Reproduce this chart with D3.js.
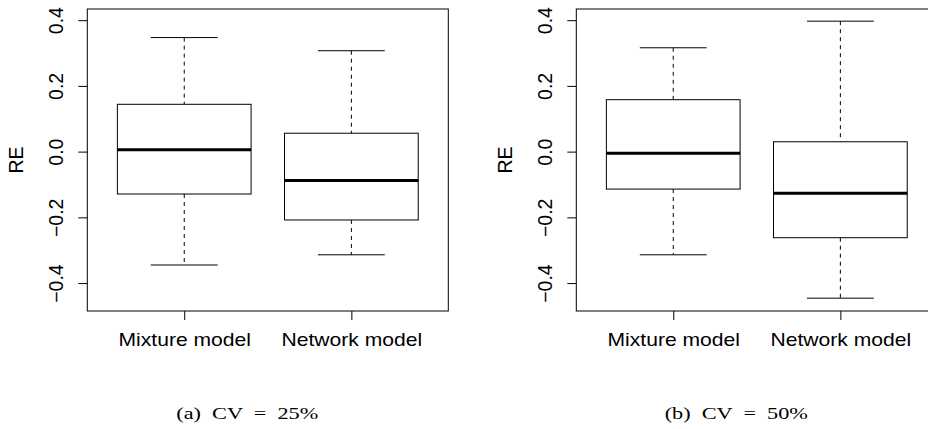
<!DOCTYPE html>
<html>
<head>
<meta charset="utf-8">
<script src="https://cdn.jsdelivr.net/npm/d3@7"></script>
<style>
  html, body { margin: 0; padding: 0; background: #fff; }
  #chart { width: 928px; height: 429px; overflow: hidden; }
</style>
</head>
<body>
<div id="chart"></div>
<script>
// --- data ---
const categories = ["Mixture model", "Network model"];
const captions = ["(a)  CV  =  25%", "(b)  CV  =  50%"];
// [lower whisker, Q1, median, Q3, upper whisker]
const cv25Mixture = [-0.345, -0.129, 0.006, 0.144, 0.347];
const cv25Network = [-0.314, -0.208, -0.088, 0.056, 0.307];
const cv50Mixture = [-0.314, -0.114, -0.005, 0.158, 0.316];
const cv50Network = [-0.446, -0.262, -0.127, 0.030, 0.397];
const yTicks = [-0.4, -0.2, 0.0, 0.2, 0.4];
const yTickLabels = ["\u22120.4", "\u22120.2", "0.0", "0.2", "0.4"];
const yLabel = "RE";

// --- layout ---
const width = 928, height = 429;
const plotTop = 9, plotBottom = 311, plotWidth = 361;
const hStretch = 1.14; // the source picture is a bit wider than tall
const panels = [
  { left: 87.3, caption: captions[0], stats: [cv25Mixture, cv25Network] },
  { left: 576.3, caption: captions[1], stats: [cv50Mixture, cv50Network] }
];

const svg = d3.select("#chart").append("svg")
  .attr("width", width)
  .attr("height", height)
  .style("font-family", "'Liberation Sans', Arial, Helvetica, sans-serif");

// shared y range (R extends the data range by 4%)
const y = d3.scaleLinear().domain([-0.485, 0.434]).range([plotBottom, plotTop]);

function stretch(sel, factor) {
  sel.each(function() {
    const len = this.getComputedTextLength();
    d3.select(this)
      .attr("textLength", len * factor)
      .attr("lengthAdjust", "spacingAndGlyphs");
  });
}

panels.forEach(p => {
  const x = d3.scaleLinear().domain([0.42, 2.58]).range([p.left, p.left + plotWidth]);
  const g = svg.append("g");

  // boxes
  p.stats.forEach((s, i) => {
    const c = i + 1;
    const [lo, q1, med, q3, hi] = s;

    g.append("line")
      .attr("x1", x(c)).attr("x2", x(c))
      .attr("y1", y(hi)).attr("y2", y(q3))
      .attr("stroke", "#000").attr("stroke-dasharray", "4,4");
    g.append("line")
      .attr("x1", x(c)).attr("x2", x(c))
      .attr("y1", y(q1)).attr("y2", y(lo))
      .attr("stroke", "#000").attr("stroke-dasharray", "4,4");

    [lo, hi].forEach(v => {
      g.append("line")
        .attr("x1", x(c - 0.2)).attr("x2", x(c + 0.2))
        .attr("y1", y(v)).attr("y2", y(v))
        .attr("stroke", "#000");
    });

    g.append("rect")
      .attr("x", x(c - 0.4))
      .attr("y", y(q3))
      .attr("width", x(c + 0.4) - x(c - 0.4))
      .attr("height", y(q1) - y(q3))
      .attr("fill", "#fff")
      .attr("stroke", "#000");

    g.append("line")
      .attr("x1", x(c - 0.4)).attr("x2", x(c + 0.4))
      .attr("y1", y(med)).attr("y2", y(med))
      .attr("stroke", "#000").attr("stroke-width", 3);
  });

  // frame
  g.append("rect")
    .attr("x", p.left)
    .attr("y", plotTop)
    .attr("width", plotWidth)
    .attr("height", plotBottom - plotTop)
    .attr("fill", "none")
    .attr("stroke", "#000");

  // y axis
  const yAxis = g.append("g")
    .attr("transform", `translate(${p.left},0)`)
    .call(d3.axisLeft(y).tickValues(yTicks).tickSize(9).tickFormat((d, i) => yTickLabels[i]));
  yAxis.select(".domain").remove();
  yAxis.selectAll("line").attr("stroke", "#000");
  yAxis.selectAll("text")
    .attr("x", null)
    .attr("dy", null)
    .attr("text-anchor", "middle")
    .attr("transform", "translate(-24,0) rotate(-90)")
    .attr("fill", "#000")
    .style("font-size", "19.5px")
    .style("font-family", "'Liberation Sans', Arial, sans-serif");

  // x axis
  const xAxis = g.append("g")
    .attr("transform", `translate(0,${plotBottom})`)
    .call(d3.axisBottom(x).tickValues([1, 2]).tickSize(9).tickFormat((d, i) => categories[i]));
  xAxis.select(".domain").remove();
  xAxis.selectAll("line").attr("stroke", "#000");
  xAxis.selectAll("text")
    .attr("y", 34.5)
    .attr("dy", null)
    .attr("fill", "#000")
    .style("font-size", "18.5px")
    .style("font-family", "'Liberation Sans', Arial, sans-serif")
    .call(stretch, hStretch);

  // y label
  g.append("text")
    .attr("transform", `translate(${p.left - 64},${(plotTop + plotBottom) / 2}) rotate(-90)`)
    .attr("text-anchor", "middle")
    .style("font-size", "19.5px")
    .text(yLabel);

  // caption
  g.append("text")
    .attr("x", p.left + 160)
    .attr("y", 419)
    .attr("text-anchor", "middle")
    .style("white-space", "pre")
    .style("font-family", "'Liberation Serif', 'DejaVu Serif', serif")
    .style("font-size", "17px")
    .text(p.caption)
    .call(stretch, 1.31);
});
</script>
</body>
</html>
